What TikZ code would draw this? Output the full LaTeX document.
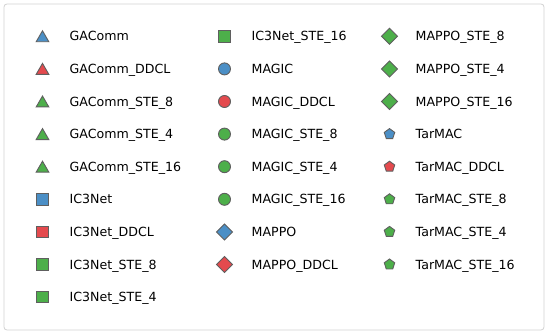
\documentclass[tikz,border=0pt]{standalone}
\usepackage{fontspec}
\setmainfont{DejaVu Sans}
\usepackage{tikz}
\usetikzlibrary{shapes.geometric}
\definecolor{cblue}{RGB}{75,143,198}
\definecolor{cred}{RGB}{228,74,78}
\definecolor{cgreen}{RGB}{77,175,74}
\definecolor{edgegray}{RGB}{95,95,95}
\definecolor{framegray}{RGB}{210,210,210}
\tikzset{
  mk/.style={draw=edgegray,line width=0.9pt,inner sep=0pt,outer sep=0pt},
  mtri/.style={mk,regular polygon,regular polygon sides=3,minimum size=14.6pt,yshift=-1.8pt},
  msq/.style={mk,rectangle,minimum size=11.4pt},
  mcirc/.style={mk,circle,minimum size=12pt},
  mdia/.style={mk,diamond,aspect=1,minimum width=16pt,minimum height=16pt},
  mpent/.style={mk,regular polygon,regular polygon sides=5,minimum size=11pt},
  lbl/.style={anchor=west,inner sep=0pt,text height=9.3pt,text depth=0pt,
    font=\fontsize{12.6}{15}\selectfont}
}

\begin{document}
\begin{tikzpicture}[x=1pt,y=-1pt]
\useasboundingbox (0,0) rectangle (548,334);
\draw[framegray,line width=0.8pt,fill=white,rounded corners=3pt] (4,4) rectangle (544,330);
\coordinate (A) at (42.5,36.3);
\coordinate (B) at (42.5,68.9);
\coordinate (C) at (42.5,101.5);
\coordinate (D) at (42.5,134.1);
\coordinate (E) at (42.5,166.7);
\coordinate (F) at (42.5,199.3);
\coordinate (G) at (42.5,231.9);
\coordinate (H) at (42.5,264.5);
\coordinate (I) at (42.5,297.1);
\coordinate (J) at (224.5,36.3);
\coordinate (K) at (224.5,68.9);
\coordinate (L) at (224.5,101.5);
\coordinate (M) at (224.5,134.1);
\coordinate (N) at (224.5,166.7);
\coordinate (O) at (224.5,199.3);
\coordinate (P) at (224.5,231.9);
\coordinate (Q) at (224.5,264.5);
\coordinate (R) at (389.5,36.3);
\coordinate (S) at (389.5,68.9);
\coordinate (T) at (389.5,101.5);
\coordinate (U) at (389.5,134.1);
\coordinate (V) at (389.5,166.7);
\coordinate (W) at (389.5,199.3);
\coordinate (X) at (389.5,231.9);
\coordinate (Y) at (389.5,264.5);
% markers
\node[mtri,fill=cblue] (mA) at (A) {};
\node[mtri,fill=cred] (mB) at (B) {};
\node[mtri,fill=cgreen] (mC) at (C) {};
\node[mtri,fill=cgreen] (mD) at (D) {};
\node[mtri,fill=cgreen] (mE) at (E) {};
\node[msq,fill=cblue] (mF) at (F) {};
\node[msq,fill=cred] (mG) at (G) {};
\node[msq,fill=cgreen] (mH) at (H) {};
\node[msq,fill=cgreen] (mI) at (I) {};
\node[msq,fill=cgreen] (mJ) at (J) {};
\node[mcirc,fill=cblue] (mK) at (K) {};
\node[mcirc,fill=cred] (mL) at (L) {};
\node[mcirc,fill=cgreen] (mM) at (M) {};
\node[mcirc,fill=cgreen] (mN) at (N) {};
\node[mcirc,fill=cgreen] (mO) at (O) {};
\node[mdia,fill=cblue] (mP) at (P) {};
\node[mdia,fill=cred] (mQ) at (Q) {};
\node[mdia,fill=cgreen] (mR) at (R) {};
\node[mdia,fill=cgreen] (mS) at (S) {};
\node[mdia,fill=cgreen] (mT) at (T) {};
\node[mpent,fill=cblue] (mU) at (U) {};
\node[mpent,fill=cred] (mV) at (V) {};
\node[mpent,fill=cgreen] (mW) at (W) {};
\node[mpent,fill=cgreen] (mX) at (X) {};
\node[mpent,fill=cgreen] (mY) at (Y) {};
% labels
\node[lbl] (tA) at ([xshift=27pt]A) {GAComm};
\node[lbl] (tB) at ([xshift=27pt]B) {GAComm\_DDCL};
\node[lbl] (tC) at ([xshift=27pt]C) {GAComm\_STE\_8};
\node[lbl] (tD) at ([xshift=27pt]D) {GAComm\_STE\_4};
\node[lbl] (tE) at ([xshift=27pt]E) {GAComm\_STE\_16};
\node[lbl] (tF) at ([xshift=27pt]F) {IC3Net};
\node[lbl] (tG) at ([xshift=27pt]G) {IC3Net\_DDCL};
\node[lbl] (tH) at ([xshift=27pt]H) {IC3Net\_STE\_8};
\node[lbl] (tI) at ([xshift=27pt]I) {IC3Net\_STE\_4};
\node[lbl] (tJ) at ([xshift=27pt]J) {IC3Net\_STE\_16};
\node[lbl] (tK) at ([xshift=27pt]K) {MAGIC};
\node[lbl] (tL) at ([xshift=27pt]L) {MAGIC\_DDCL};
\node[lbl] (tM) at ([xshift=27pt]M) {MAGIC\_STE\_8};
\node[lbl] (tN) at ([xshift=27pt]N) {MAGIC\_STE\_4};
\node[lbl] (tO) at ([xshift=27pt]O) {MAGIC\_STE\_16};
\node[lbl] (tP) at ([xshift=27pt]P) {MAPPO};
\node[lbl] (tQ) at ([xshift=27pt]Q) {MAPPO\_DDCL};
\node[lbl] (tR) at ([xshift=26pt]R) {MAPPO\_STE\_8};
\node[lbl] (tS) at ([xshift=26pt]S) {MAPPO\_STE\_4};
\node[lbl] (tT) at ([xshift=26pt]T) {MAPPO\_STE\_16};
\node[lbl] (tU) at ([xshift=26pt]U) {TarMAC};
\node[lbl] (tV) at ([xshift=26pt]V) {TarMAC\_DDCL};
\node[lbl] (tW) at ([xshift=26pt]W) {TarMAC\_STE\_8};
\node[lbl] (tX) at ([xshift=26pt]X) {TarMAC\_STE\_4};
\node[lbl] (tY) at ([xshift=26pt]Y) {TarMAC\_STE\_16};
\end{tikzpicture}
\end{document}
